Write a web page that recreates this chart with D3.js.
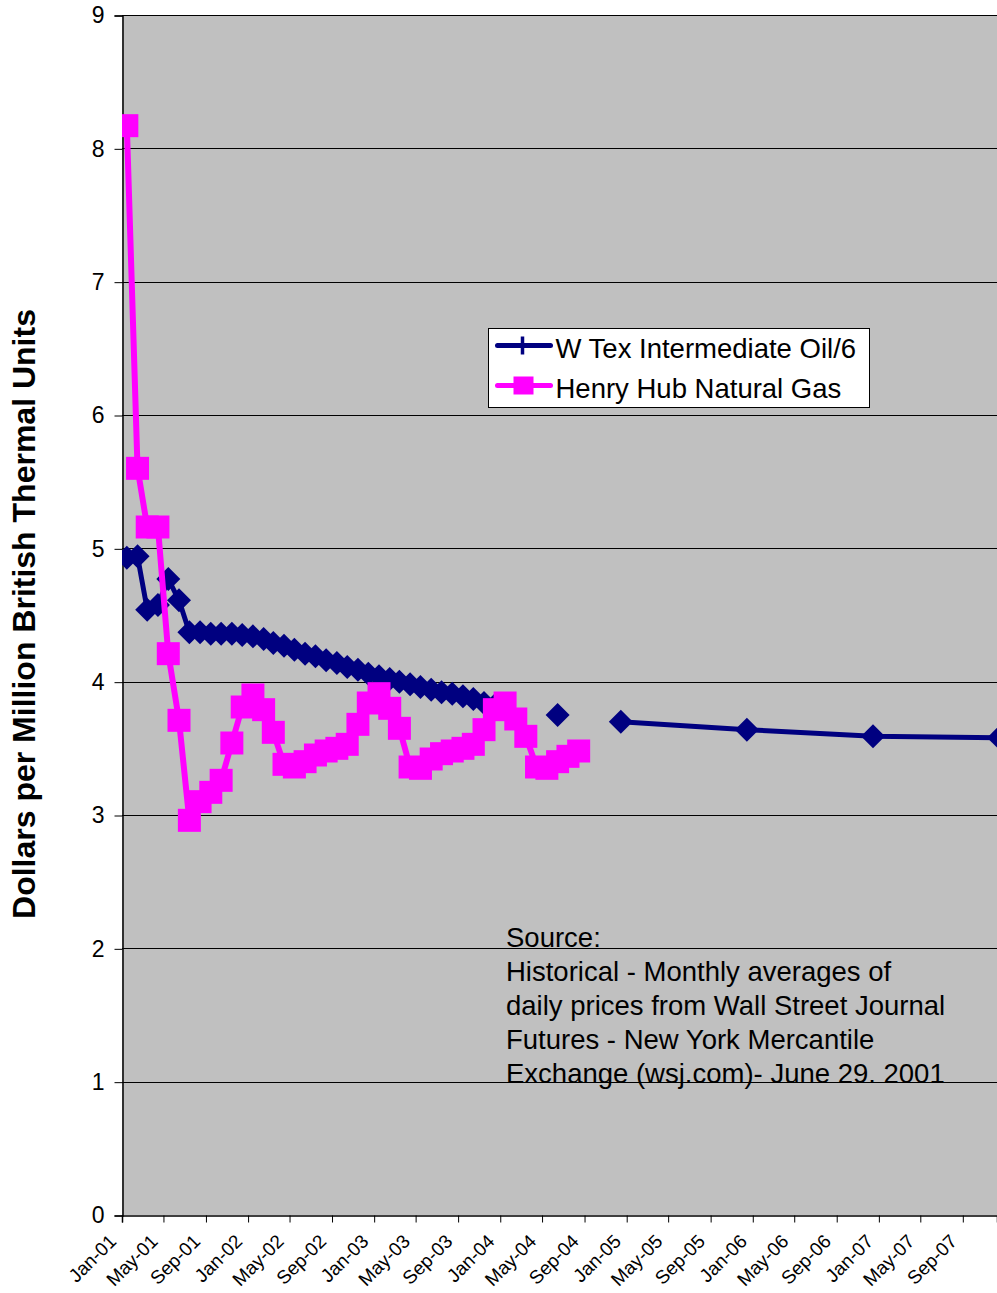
<!DOCTYPE html>
<html>
<head>
<meta charset="utf-8">
<script src="https://cdn.jsdelivr.net/npm/d3@7"></script>
<style>
  body { margin: 0; background: #fff; }
  text { font-family: "Liberation Sans", Arial, sans-serif; }
</style>
</head>
<body>
<div id="chart"></div>
<script>
// monthly Henry Hub natural gas, Jan-01 .. Aug-04
var gasMonths = ["2001-01","2001-02","2001-03","2001-04","2001-05","2001-06","2001-07","2001-08","2001-09","2001-10","2001-11","2001-12",
  "2002-01","2002-02","2002-03","2002-04","2002-05","2002-06","2002-07","2002-08","2002-09","2002-10","2002-11","2002-12",
  "2003-01","2003-02","2003-03","2003-04","2003-05","2003-06","2003-07","2003-08","2003-09","2003-10","2003-11","2003-12",
  "2004-01","2004-02","2004-03","2004-04","2004-05","2004-06","2004-07","2004-08"];
var gasValues = [8.17, 5.60, 5.16, 5.16, 4.21, 3.71, 2.96, 3.10, 3.17, 3.26, 3.54, 3.81,
  3.90, 3.79, 3.62, 3.38, 3.36, 3.40, 3.45, 3.48, 3.50, 3.53, 3.68, 3.84,
  3.91, 3.80, 3.65, 3.36, 3.35, 3.42, 3.46, 3.48, 3.50, 3.53, 3.64, 3.79,
  3.84, 3.72, 3.59, 3.36, 3.35, 3.40, 3.44, 3.48];

// W Tex intermediate oil / 6 (null = gap in the line)
var oilMonths = ["2001-01","2001-02","2001-03","2001-04","2001-05","2001-06","2001-07","2001-08","2001-09","2001-10","2001-11","2001-12",
  "2002-01","2002-02","2002-03","2002-04","2002-05","2002-06","2002-07","2002-08","2002-09","2002-10","2002-11","2002-12",
  "2003-01","2003-02","2003-03","2003-04","2003-05","2003-06","2003-07","2003-08","2003-09","2003-10","2003-11","2003-12",
  "2004-03","2004-06","2004-09","2004-12","2005-12","2006-12","2007-12"];
var oilValues = [4.93, 4.94, 4.54, 4.575, 4.77, 4.61, 4.37, 4.37, 4.36, 4.36, 4.36, 4.35,
  4.34, 4.32, 4.29, 4.27, 4.24, 4.21, 4.19, 4.16, 4.14, 4.11, 4.09, 4.06,
  4.04, 4.02, 4.00, 3.98, 3.96, 3.94, 3.92, 3.91, 3.89, 3.87, 3.84, 3.82,
  null, 3.75, null, 3.70, 3.64, 3.59, 3.58];

var yTicks = [0, 1, 2, 3, 4, 5, 6, 7, 8, 9];
var sourceLines = ["Source:",
  "Historical - Monthly averages of",
  "daily prices from Wall Street Journal",
  "Futures - New York Mercantile",
  "Exchange (wsj.com)- June 29. 2001"];

var width = 997, height = 1293;
var margin = { top: 15, right: 0, bottom: 78, left: 122 };

var parseMonth = function(s){ var p = s.split("-"); return new Date(+p[0], +p[1] - 1, 15); };

var gasData = gasMonths.map(function(m, i){ return { date: parseMonth(m), value: gasValues[i] }; });
var oilData = oilMonths.map(function(m, i){ return { date: parseMonth(m), value: oilValues[i] }; });

var svg = d3.select("#chart").append("svg")
  .attr("width", width)
  .attr("height", height);

var x = d3.scaleTime()
  .domain([new Date(2001, 0, 1), new Date(2007, 11, 9)])
  .range([margin.left, width - margin.right]);

var y = d3.scaleLinear()
  .domain([0, 9])
  .range([height - margin.bottom, margin.top]);

// plot background
svg.append("rect")
  .attr("x", margin.left)
  .attr("y", margin.top)
  .attr("width", width - margin.right - margin.left)
  .attr("height", y(0) - margin.top)
  .attr("fill", "#c0c0c0");

// gridlines
svg.append("g")
  .selectAll("line")
  .data(yTicks.filter(function(d){ return d > 0; }))
  .enter().append("line")
  .attr("x1", margin.left)
  .attr("x2", width)
  .attr("y1", function(d){ return Math.round(y(d)) + 0.5; })
  .attr("y2", function(d){ return Math.round(y(d)) + 0.5; })
  .attr("stroke", "#000")
  .attr("stroke-width", 1);

// y axis
var yAxis = svg.append("g")
  .attr("transform", "translate(" + (margin.left + 0.5) + ",0.5)")
  .call(d3.axisLeft(y).tickValues(yTicks).tickSize(8).tickPadding(10).tickFormat(d3.format("d")));
yAxis.select(".domain").attr("stroke", "#000").attr("stroke-width", 1.5);
yAxis.selectAll("text").style("font-size", "23px").attr("fill", "#000");

// x axis
var xAxis = svg.append("g")
  .attr("transform", "translate(0," + (Math.round(y(0)) + 0.5) + ")")
  .call(d3.axisBottom(x).ticks(d3.timeMonth.every(4)).tickSize(7).tickFormat(d3.timeFormat("%b-%y")));
xAxis.select(".domain").attr("stroke", "#000").attr("stroke-width", 1.5);
xAxis.selectAll("text")
  .style("font-size", "19px")
  .attr("fill", "#000")
  .attr("text-anchor", "end")
  .attr("x", 0)
  .attr("y", 0)
  .attr("dy", 0)
  .attr("transform", "translate(-5,27) rotate(-45)");

svg.append("defs").append("clipPath").attr("id", "plotclip")
  .append("rect")
  .attr("x", margin.left).attr("y", 0)
  .attr("width", width - margin.left).attr("height", height - margin.bottom + 15);

var plot = svg.append("g").attr("clip-path", "url(#plotclip)");

var line = d3.line()
  .defined(function(d){ return d.value != null; })
  .x(function(d){ return x(d.date); })
  .y(function(d){ return y(d.value); });

// oil series
plot.append("path")
  .datum(oilData)
  .attr("d", line)
  .attr("fill", "none")
  .attr("stroke", "#000080")
  .attr("stroke-width", 5)
  .attr("stroke-linejoin", "round");

var diamond = "M0,-12L12,0L0,12L-12,0Z";
plot.append("g").selectAll("path")
  .data(oilData.filter(function(d){ return d.value != null; }))
  .enter().append("path")
  .attr("d", diamond)
  .attr("transform", function(d){ return "translate(" + x(d.date) + "," + y(d.value) + ")"; })
  .attr("fill", "#000080");

// gas series
plot.append("path")
  .datum(gasData)
  .attr("d", line)
  .attr("fill", "none")
  .attr("stroke", "#ff00ff")
  .attr("stroke-width", 6)
  .attr("stroke-linejoin", "round");

plot.append("g").selectAll("rect")
  .data(gasData)
  .enter().append("rect")
  .attr("x", function(d){ return x(d.date) - 11.5; })
  .attr("y", function(d){ return y(d.value) - 11.5; })
  .attr("width", 23)
  .attr("height", 23)
  .attr("fill", "#ff00ff");

// legend
var legend = svg.append("g").attr("transform", "translate(488.5,328.5)");
legend.append("rect")
  .attr("width", 381)
  .attr("height", 79)
  .attr("fill", "#fff")
  .attr("stroke", "#000")
  .attr("stroke-width", 1);

legend.append("line")
  .attr("x1", 9).attr("x2", 62).attr("y1", 17).attr("y2", 17)
  .attr("stroke", "#000080").attr("stroke-width", 5).attr("stroke-linecap", "round");
legend.append("line")
  .attr("x1", 34).attr("x2", 34).attr("y1", 8).attr("y2", 26)
  .attr("stroke", "#000080").attr("stroke-width", 3.5);
legend.append("text")
  .attr("x", 67).attr("y", 29)
  .style("font-size", "27.5px")
  .text("W Tex Intermediate Oil/6");

legend.append("line")
  .attr("x1", 9).attr("x2", 62).attr("y1", 57).attr("y2", 57)
  .attr("stroke", "#ff00ff").attr("stroke-width", 5).attr("stroke-linecap", "round");
legend.append("rect")
  .attr("x", 25).attr("y", 48).attr("width", 20).attr("height", 18)
  .attr("fill", "#ff00ff");
legend.append("text")
  .attr("x", 67).attr("y", 69)
  .style("font-size", "27.5px")
  .text("Henry Hub Natural Gas");

// source note
svg.append("g").selectAll("text")
  .data(sourceLines)
  .enter().append("text")
  .attr("x", 506)
  .attr("y", function(d, i){ return 947 + i * 34; })
  .style("font-size", "27.5px")
  .attr("fill", "#000")
  .text(function(d){ return d; });

// y axis title
svg.append("text")
  .attr("transform", "translate(35,614) rotate(-90)")
  .attr("text-anchor", "middle")
  .style("font-size", "32px")
  .style("font-weight", "bold")
  .text("Dollars per Million British Thermal Units");
</script>
</body>
</html>
